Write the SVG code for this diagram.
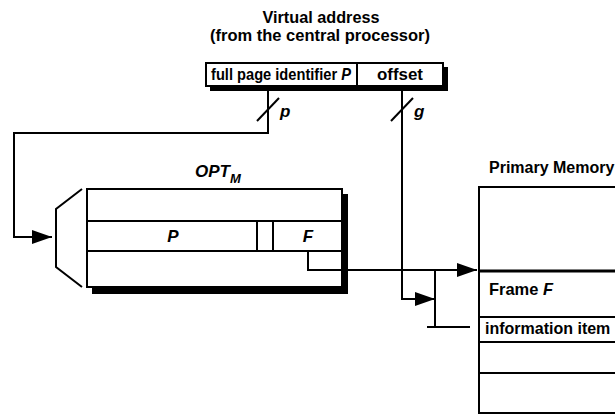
<svg xmlns="http://www.w3.org/2000/svg" width="615" height="416" viewBox="0 0 615 416">
  <style>
    text { font-family: "Liberation Sans", Arial, sans-serif; font-weight: bold; fill: #000; }
    .t17 { font-size: 17px; }
    .t16 { font-size: 16px; }
    .it { font-style: italic; }
    .box { fill: #fff; stroke: #000; stroke-width: 2; }
    .shadow { fill: #000; }
    .ln { fill: none; stroke: #000; stroke-width: 2; }
    .wire { fill: none; stroke: #000; stroke-width: 2; }
    .arrow { fill: none; stroke: #000; stroke-width: 2; marker-end: url(#head); }
  </style>
  <defs>
    <marker id="head" markerUnits="userSpaceOnUse" markerWidth="20" markerHeight="14" refX="20" refY="7" orient="auto">
      <path d="M0,0 L20,7 L0,14 Z" fill="#000"/>
    </marker>
  </defs>
  <rect width="615" height="416" fill="#fff"/>

  <!-- virtual address register -->
  <g id="virtual-address">
    <text class="t17" x="321" y="23" text-anchor="middle" textLength="117" lengthAdjust="spacingAndGlyphs">Virtual address</text>
    <text class="t17" x="320" y="41" text-anchor="middle" textLength="220" lengthAdjust="spacingAndGlyphs">(from the central processor)</text>
    <rect class="shadow" x="210" y="67" width="238" height="24"/>
    <rect class="box" x="206" y="63" width="237" height="23"/>
    <line class="ln" x1="357" y1="63" x2="357" y2="86"/>
    <text class="t17" x="211" y="80" textLength="140" lengthAdjust="spacingAndGlyphs">full page identifier <tspan class="it">P</tspan></text>
    <text class="t17" x="377" y="80" textLength="46" lengthAdjust="spacingAndGlyphs">offset</text>
  </g>

  <!-- page table OPT_M -->
  <g id="opt">
    <text class="t17 it" x="195" y="177">OPT<tspan font-size="13" dy="6">M</tspan></text>
    <polyline class="ln" points="82,189 56,209 56,267 82,287"/>
    <rect class="shadow" x="92" y="194" width="256" height="100"/>
    <rect class="box" x="87" y="189" width="255" height="98"/>
    <line class="ln" x1="87" y1="221" x2="342" y2="221"/>
    <line class="ln" x1="87" y1="251" x2="342" y2="251"/>
    <line class="ln" x1="257" y1="221" x2="257" y2="251"/>
    <line class="ln" x1="273" y1="221" x2="273" y2="251"/>
    <text class="t17 it" x="173" y="242" text-anchor="middle">P</text>
    <text class="t17 it" x="308" y="242" text-anchor="middle">F</text>
  </g>

  <!-- primary memory -->
  <g id="primary-memory">
    <text class="t16" x="489" y="173">Primary Memory</text>
    <polyline class="ln" points="615,187 479,187 479,413 615,413"/>
    <line x1="479" y1="271" x2="615" y2="271" stroke="#000" stroke-width="3"/>
    <line class="ln" x1="479" y1="317" x2="615" y2="317"/>
    <line class="ln" x1="479" y1="342" x2="615" y2="342"/>
    <line class="ln" x1="479" y1="373" x2="615" y2="373"/>
    <text class="t17" x="489" y="295" textLength="64" lengthAdjust="spacingAndGlyphs">Frame <tspan class="it">F</tspan></text>
    <text class="t16" x="485" y="334">information item</text>
  </g>

  <!-- connectors -->
  <g id="connectors">
    <!-- page number p into the table -->
    <polyline class="arrow" points="268,91 268,133 14,133 14,237 52,237"/>
    <line class="wire" x1="257" y1="121" x2="279" y2="98"/>
    <text class="t17 it" x="280" y="117">p</text>
    <!-- offset g -->
    <polyline class="arrow" points="402,91 402,299 435,299"/>
    <line class="wire" x1="391" y1="121" x2="413" y2="98"/>
    <text class="t17 it" x="414" y="117">g</text>
    <!-- frame number F to memory -->
    <polyline class="arrow" points="308,252 308,270 477,270"/>
    <!-- combined address to the item -->
    <polyline class="wire" points="435,270 435,327"/>
    <line class="wire" x1="427" y1="327" x2="470" y2="327"/>
  </g>
</svg>
